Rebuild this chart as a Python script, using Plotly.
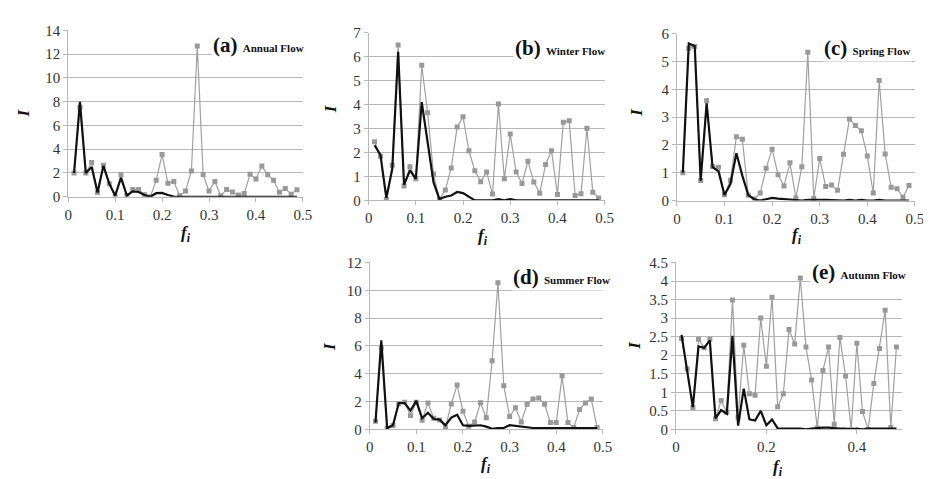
import plotly.graph_objects as go

# frequencies f_k = k/80, k = 1..39
freq = [k / 80 for k in range(1, 40)]

annual_obs = [2.0, 7.54, 2.0, 2.88, 0.35, 2.66, 1.1, 0.0, 1.85, 0.1, 0.62, 0.62, 0.16, 0.0, 1.38, 3.55, 1.14, 1.28, 0.08, 0.49,
              2.17, 12.7, 1.87, 0.49, 1.28, 0.08, 0.62, 0.41, 0.14, 0.27, 1.9, 1.49, 2.58, 1.85, 1.38, 0.38, 0.7, 0.22, 0.6]
annual_sim = [2.0, 8.0, 2.0, 2.5, 0.35, 2.6, 1.1, 0.1, 1.6, 0.1, 0.45, 0.4, 0.15, 0.0, 0.3, 0.32, 0.15, 0.02, 0.0, 0.0,
              0.0, 0.0, 0.0, 0.0, 0.0, 0.0, 0.0, 0.0, 0.0, 0.0, 0.0, 0.0, 0.0, 0.0, 0.0, 0.0, 0.0, 0.0, 0.0]

winter_obs = [2.45, 1.84, 0.03, 1.47, 6.49, 0.6, 1.4, 0.9, 5.64, 3.66, 1.1, 0.04, 0.43, 1.35, 3.06, 3.49, 2.07, 1.24, 0.78, 1.18,
              0.26, 4.02, 0.9, 2.77, 1.18, 0.7, 1.63, 0.77, 0.3, 1.5, 2.07, 0.24, 3.26, 3.32, 0.2, 0.27, 3.01, 0.34, 0.1]
winter_sim = [2.3, 1.9, 0.1, 1.3, 6.2, 0.65, 1.25, 0.9, 4.1, 2.4, 0.75, 0.05, 0.15, 0.2, 0.35, 0.3, 0.15, 0.0, 0.0, 0.0,
              0.0, 0.05, 0.0, 0.05, 0.0, 0.0, 0.0, 0.0, 0.0, 0.0, 0.0, 0.0, 0.0, 0.0, 0.0, 0.0, 0.0, 0.0, 0.0]

spring_obs = [1.0, 5.48, 5.54, 0.72, 3.59, 1.23, 1.2, 0.21, 0.73, 2.3, 2.21, 0.19, 0.06, 0.27, 1.16, 1.85, 0.93, 0.53, 1.36, 0.09,
              1.22, 5.33, 0.08, 1.51, 0.51, 0.56, 0.37, 1.67, 2.93, 2.7, 2.51, 1.6, 0.27, 4.32, 1.68, 0.48, 0.43, 0.12, 0.54]
spring_sim = [1.0, 5.65, 5.55, 0.72, 3.5, 1.2, 1.05, 0.2, 0.6, 1.7, 0.9, 0.2, 0.05, 0.0, 0.05, 0.1, 0.07, 0.05, 0.03, 0.02,
              0.0, 0.03, 0.02, 0.03, 0.03, 0.02, 0.0, 0.0, 0.03, 0.0, 0.03, 0.0, 0.0, 0.03, 0.0, 0.0, 0.0, 0.0, 0.0]

summer_obs = [0.58, 5.86, 0.09, 0.28, 1.85, 1.95, 1.0, 1.95, 0.65, 1.9, 0.81, 0.67, 0.12, 1.83, 3.2, 1.3, 0.23, 0.53, 1.92, 0.83,
              4.93, 10.54, 3.13, 0.93, 1.55, 0.53, 1.81, 2.18, 2.25, 1.81, 0.49, 0.49, 3.85, 0.49, 0.14, 1.44, 1.9, 2.18, 0.14]
summer_sim = [0.5, 6.4, 0.1, 0.3, 1.9, 1.9, 1.35, 2.05, 0.8, 1.2, 0.75, 0.7, 0.3, 0.85, 1.05, 0.3, 0.25, 0.25, 0.3, 0.2,
              0.05, 0.1, 0.1, 0.3, 0.25, 0.2, 0.1, 0.1, 0.1, 0.1, 0.1, 0.1, 0.1, 0.1, 0.1, 0.1, 0.1, 0.1, 0.1]

autumn_obs = [2.45, 1.63, 0.59, 2.43, 2.2, 2.43, 0.29, 0.78, 0.46, 3.49, 0.33, 2.27, 0.96, 0.92, 3.0, 1.7, 3.56, 0.61, 0.96, 2.69,
              2.3, 4.08, 2.22, 1.33, 0.04, 1.59, 2.22, 0.14, 2.48, 1.44, 0.0, 2.32, 0.48, 0.0, 1.24, 2.18, 3.21, 0.05, 2.22]
autumn_sim = [2.55, 1.6, 0.6, 2.24, 2.2, 2.4, 0.3, 0.52, 0.42, 2.52, 0.1, 1.1, 0.27, 0.24, 0.5, 0.11, 0.27, 0.03, 0.02, 0.02,
              0.02, 0.02, 0.0, 0.02, 0.04, 0.05, 0.05, 0.03, 0.02, 0.02, 0.0, 0.02, 0.0, 0.02, 0.02, 0.02, 0.02, 0.02, 0.02]

panel_labels = ["(a)", "(b)", "(c)", "(d)", "(e)"]
panel_names = ["Annual Flow", "Winter Flow", "Spring Flow", "Summer Flow", "Autumn Flow"]
y_max = [14, 7, 6, 12, 4.5]
y_dtick = [2, 1, 1, 2, 0.5]
x_dtick = [0.1, 0.1, 0.1, 0.1, 0.2]

W, H = 931, 479
# plot-area pixel boxes: (left, right, top, bottom)
boxes = [(57, 295, 15, 187), (361.7, 601, 17.3, 190.7), (674.3, 915.7, 18.3, 191),
         (362.7, 599.3, 255, 427.7), (673.3, 902.7, 255, 427.7)]
label_pos = [(298, 30), (603, 33), (913, 33), (609, 270), (909, 265)]
ytitle_pos = [(12, 100), (323, 96), (633, 100), (322, 342), (631, 341)]
xtitle_pos = [(176, 226), (478, 229), (796, 228), (481, 465), (777, 468)]

series = [(annual_obs, annual_sim), (winter_obs, winter_sim), (spring_obs, spring_sim),
          (summer_obs, summer_sim), (autumn_obs, autumn_sim)]

GRAY = "#a0a0a0"
GRID = "#b8b8b8"
SERIF = "'Liberation Serif', 'Times New Roman', Times, 'DejaVu Serif', serif"

fig = go.Figure()
layout = dict(width=W, height=H, margin=dict(l=0, r=0, t=0, b=0), paper_bgcolor="white",
              plot_bgcolor="white", showlegend=False, annotations=[],
              font=dict(family=SERIF, size=14, color="#333333"))

for i, (obs, sim) in enumerate(series):
    n = "" if i == 0 else str(i + 1)
    xa, ya = "x" + n, "y" + n
    fig.add_trace(go.Scatter(x=freq, y=obs, mode="lines+markers", xaxis=xa, yaxis=ya,
                             line=dict(color=GRAY, width=1.2),
                             marker=dict(symbol="square", size=5, color="#999999")))
    fig.add_trace(go.Scatter(x=freq, y=sim, mode="lines", xaxis=xa, yaxis=ya,
                             line=dict(color="#111111", width=2.2)))
    l, r, t, b = boxes[i]
    layout["xaxis" + n] = dict(domain=[l / W, r / W], range=[0, 0.5], dtick=x_dtick[i], tick0=0,
                              anchor=ya, showgrid=False, zeroline=False, showline=True,
                              linecolor=GRID, linewidth=1, ticks="outside", ticklen=4, tickcolor=GRID,
                              tickfont=dict(family=SERIF, size=15, color="#333333"))
    layout["yaxis" + n] = dict(domain=[1 - b / H, 1 - t / H], range=[0, y_max[i]], dtick=y_dtick[i],
                              anchor=xa, showgrid=True, gridcolor=GRID, gridwidth=1, zeroline=False,
                              showline=True, linecolor=GRID, linewidth=1, ticks="outside", ticklen=4,
                              tickcolor=GRID,
                              tickfont=dict(family=SERIF, size=15, color="#333333"))
    lx, ly = label_pos[i]
    layout["annotations"].append(dict(
        x=lx / W, y=1 - ly / H, xref="paper", yref="paper", xanchor="right", yanchor="middle",
        showarrow=False, bgcolor="white",
        text=f"<b><span style='font-size:21px'>{panel_labels[i]}</span> "
             f"<span style='font-size:11px'>{panel_names[i]}</span></b>",
        font=dict(family=SERIF, size=21, color="#111111")))
    tx, ty = ytitle_pos[i]
    layout["annotations"].append(dict(
        x=tx / W, y=1 - ty / H, xref="paper", yref="paper", xanchor="center", yanchor="middle",
        showarrow=False, textangle=-90, text="<b><i>I</i></b>",
        font=dict(family=SERIF, size=17, color="#111111")))
    fx, fy = xtitle_pos[i]
    layout["annotations"].append(dict(
        x=fx / W, y=1 - fy / H, xref="paper", yref="paper", xanchor="center", yanchor="middle",
        showarrow=False, text="<b><i>f<sub>i</sub></i></b>",
        font=dict(family=SERIF, size=17, color="#111111")))

fig.update_layout(**layout)
fig.write_html("out.html")
